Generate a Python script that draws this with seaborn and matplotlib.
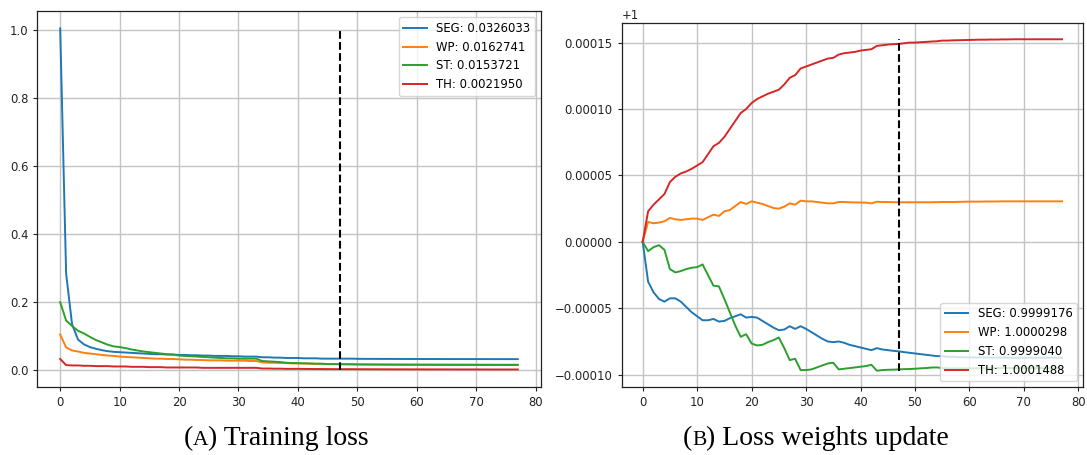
import numpy as np
import pandas as pd
import matplotlib
matplotlib.use("Agg")
import matplotlib.pyplot as plt
import seaborn as sns

# ---------------- data ----------------
epochs = list(range(78))
series_names = ["SEG", "WP", "ST", "TH"]
loss_labels = ["SEG: 0.0326033", "WP: 0.0162741", "ST: 0.0153721", "TH: 0.0021950"]
weight_labels = ["SEG: 0.9999176", "WP: 1.0000298", "ST: 0.9999040", "TH: 1.0001488"]
marker_epoch = 47

seg_loss = [1.005, 0.284, 0.135, 0.090, 0.076, 0.068, 0.063, 0.059, 0.056, 0.054,
            0.053, 0.052, 0.051, 0.050, 0.049, 0.048, 0.047, 0.047, 0.046, 0.046,
            0.045, 0.045, 0.044, 0.044, 0.043, 0.043, 0.042, 0.042, 0.042, 0.041,
            0.041, 0.040, 0.040, 0.040, 0.038, 0.038, 0.037, 0.037, 0.036, 0.036,
            0.036, 0.035, 0.035, 0.035, 0.034, 0.034, 0.034, 0.034, 0.034, 0.034,
            0.0335, 0.0334, 0.0333, 0.0333, 0.0332, 0.0332, 0.0331, 0.0331, 0.0330, 0.0330,
            0.0330, 0.0329, 0.0329, 0.0329, 0.0328, 0.0328, 0.0328, 0.0328, 0.0327, 0.0327,
            0.0327, 0.0327, 0.0327, 0.0326, 0.0326, 0.0326, 0.0326, 0.0326]
wp_loss = [0.105, 0.067, 0.058, 0.055, 0.051, 0.049, 0.047, 0.045, 0.043, 0.042,
           0.040, 0.039, 0.038, 0.037, 0.036, 0.035, 0.034, 0.034, 0.033, 0.033,
           0.032, 0.031, 0.031, 0.030, 0.030, 0.029, 0.029, 0.029, 0.028, 0.028,
           0.028, 0.028, 0.027, 0.027, 0.023, 0.022, 0.022, 0.021, 0.021, 0.020,
           0.020, 0.020, 0.019, 0.019, 0.019, 0.018, 0.018, 0.018, 0.018, 0.018,
           0.0175, 0.0174, 0.0173, 0.0172, 0.0171, 0.0170, 0.0170, 0.0169, 0.0169, 0.0168,
           0.0168, 0.0167, 0.0167, 0.0167, 0.0166, 0.0166, 0.0166, 0.0165, 0.0165, 0.0165,
           0.0164, 0.0164, 0.0164, 0.0164, 0.0163, 0.0163, 0.0163, 0.0163]
st_loss = [0.200, 0.146, 0.130, 0.116, 0.108, 0.098, 0.089, 0.082, 0.075, 0.070,
           0.068, 0.065, 0.061, 0.058, 0.055, 0.053, 0.051, 0.049, 0.047, 0.046,
           0.043, 0.042, 0.041, 0.040, 0.039, 0.038, 0.037, 0.036, 0.035, 0.035,
           0.034, 0.034, 0.034, 0.034, 0.027, 0.026, 0.025, 0.024, 0.022, 0.021,
           0.021, 0.020, 0.020, 0.019, 0.019, 0.018, 0.018, 0.0175, 0.0172, 0.0170,
           0.0168, 0.0166, 0.0165, 0.0164, 0.0163, 0.0162, 0.0161, 0.0160, 0.0160, 0.0159,
           0.0159, 0.0158, 0.0158, 0.0157, 0.0157, 0.0157, 0.0156, 0.0156, 0.0156, 0.0155,
           0.0155, 0.0155, 0.0155, 0.0154, 0.0154, 0.0154, 0.0154, 0.0154]
th_loss = [0.033, 0.015, 0.014, 0.014, 0.013, 0.013, 0.012, 0.012, 0.012, 0.011,
           0.011, 0.011, 0.010, 0.010, 0.010, 0.009, 0.009, 0.009, 0.008, 0.008,
           0.008, 0.008, 0.008, 0.008, 0.007, 0.007, 0.007, 0.007, 0.007, 0.007,
           0.007, 0.007, 0.007, 0.007, 0.005, 0.005, 0.0045, 0.0045, 0.004, 0.004,
           0.004, 0.0038, 0.0036, 0.0035, 0.0034, 0.0033, 0.0032, 0.0031, 0.0030, 0.0030,
           0.0029, 0.0029, 0.0028, 0.0028, 0.0027, 0.0027, 0.0026, 0.0026, 0.0026, 0.0025,
           0.0025, 0.0025, 0.0024, 0.0024, 0.0024, 0.0024, 0.0023, 0.0023, 0.0023, 0.0023,
           0.0023, 0.0022, 0.0022, 0.0022, 0.0022, 0.0022, 0.0022, 0.0022]

# loss-weight deviation from 1, in units of 1e-5
seg_w_e5 = [0.0, -3.0, -3.8, -4.3, -4.5, -4.25, -4.25, -4.5, -4.9, -5.3,
            -5.6, -5.9, -5.9, -5.8, -6.0, -5.95, -5.75, -5.6, -5.45, -5.7,
            -5.65, -5.7, -5.95, -6.2, -6.45, -6.65, -6.6, -6.35, -6.55, -6.35,
            -6.55, -6.8, -7.05, -7.3, -7.5, -7.55, -7.5, -7.6, -7.75, -7.85,
            -7.95, -8.05, -8.15, -8.0, -8.1, -8.15, -8.2, -8.24, -8.3, -8.35,
            -8.4, -8.45, -8.5, -8.55, -8.6, -8.6, -8.65, -8.65, -8.68, -8.68,
            -8.7, -8.7, -8.7, -8.7, -8.71, -8.71, -8.71, -8.72, -8.72, -8.72,
            -8.72, -8.72, -8.72, -8.72, -8.72, -8.72, -8.72, -8.72]
wp_w_e5 = [0.0, 1.5, 1.4, 1.45, 1.55, 1.8, 1.7, 1.65, 1.7, 1.75,
           1.75, 1.65, 1.85, 2.05, 1.95, 2.3, 2.4, 2.7, 3.0, 2.85,
           3.05, 2.95, 2.85, 2.7, 2.55, 2.5, 2.65, 2.9, 2.8, 3.1,
           3.05, 3.05, 3.0, 2.95, 2.9, 2.9, 3.0, 3.0, 2.98, 2.97,
           2.96, 2.95, 2.9, 3.02, 3.0, 3.0, 2.99, 2.98, 2.98, 2.98,
           2.98, 2.98, 2.98, 2.98, 2.99, 3.0, 3.0, 3.0, 3.01, 3.02,
           3.03, 3.03, 3.03, 3.04, 3.04, 3.04, 3.05, 3.05, 3.05, 3.05,
           3.05, 3.05, 3.05, 3.05, 3.05, 3.05, 3.05, 3.05]
st_w_e5 = [0.0, -0.7, -0.4, -0.25, -0.6, -2.05, -2.3, -2.2, -2.05, -1.95,
           -1.9, -1.7, -2.5, -3.3, -3.35, -4.3, -5.3, -6.3, -7.15, -6.95,
           -7.65, -7.8, -7.75, -7.55, -7.4, -7.2, -8.0, -8.9, -8.8, -9.65,
           -9.65, -9.6, -9.45, -9.3, -9.15, -9.1, -9.6, -9.55, -9.5, -9.45,
           -9.4, -9.35, -9.25, -9.7, -9.65, -9.63, -9.62, -9.6, -9.58, -9.57,
           -9.55, -9.52, -9.5, -9.46, -9.45, -9.5, -9.52, -9.53, -9.53, -9.52,
           -9.52, -9.52, -9.51, -9.51, -9.51, -9.5, -9.5, -9.5, -9.5, -9.5,
           -9.5, -9.5, -9.5, -9.5, -9.5, -9.5, -9.5, -9.5]
th_w_e5 = [0.0, 2.3, 2.8, 3.2, 3.6, 4.5, 4.9, 5.15, 5.3, 5.5,
           5.75, 6.0, 6.6, 7.2, 7.45, 7.9, 8.5, 9.1, 9.7, 10.0,
           10.45, 10.75, 10.95, 11.15, 11.3, 11.45, 11.85, 12.35, 12.55, 13.05,
           13.2, 13.35, 13.5, 13.65, 13.8, 13.85, 14.1, 14.2, 14.25, 14.3,
           14.4, 14.45, 14.5, 14.75, 14.8, 14.85, 14.88, 14.9, 14.95, 15.0,
           15.0, 15.03, 15.05, 15.08, 15.1, 15.15, 15.15, 15.17, 15.18, 15.19,
           15.2, 15.21, 15.22, 15.22, 15.23, 15.23, 15.24, 15.24, 15.25, 15.25,
           15.25, 15.25, 15.25, 15.25, 15.25, 15.25, 15.25, 15.25]

caption_a = ["(", "A", ") Training loss"]
caption_b = ["(", "B", ") Loss weights update"]

# ---------------- figure ----------------
colors = sns.color_palette("tab10")[:4]
W, H = 1087, 455
fig = plt.figure(figsize=(W / 100, H / 100), dpi=100)
ax1 = fig.add_axes([37.3 / W, 1 - 387.3 / H, 503.4 / W, 376.0 / H])
ax2 = fig.add_axes([621.7 / W, 1 - 387.3 / H, 461.3 / W, 364.6 / H])

loss_df = pd.DataFrame({"epoch": epochs, "SEG": seg_loss, "WP": wp_loss,
                        "ST": st_loss, "TH": th_loss})
w_df = pd.DataFrame({"epoch": epochs,
                     "SEG": 1 + np.array(seg_w_e5) * 1e-5,
                     "WP": 1 + np.array(wp_w_e5) * 1e-5,
                     "ST": 1 + np.array(st_w_e5) * 1e-5,
                     "TH": 1 + np.array(th_w_e5) * 1e-5})

LW = 1.4
for name, lab, c in zip(series_names, loss_labels, colors):
    sns.lineplot(data=loss_df, x="epoch", y=name, ax=ax1, color=c, label=lab, lw=LW)
for name, lab, c in zip(series_names, weight_labels, colors):
    sns.lineplot(data=w_df, x="epoch", y=name, ax=ax2, color=c, label=lab, lw=LW)

ax1.vlines(marker_epoch, 0.0, 1.0, colors="k", linestyles="--", lw=1.5)
wvals = w_df[series_names].values
ax2.vlines(marker_epoch, wvals.min(), wvals.max(), colors="k", linestyles="--", lw=1.5)

for ax in (ax1, ax2):
    ax.set_xlabel("")
    ax.set_ylabel("")
    ax.grid(True, color="#c4c4c4", lw=1.0)
    ax.set_xticks([0, 10, 20, 30, 40, 50, 60, 70, 80])
    ax.tick_params(labelsize=8.4, length=3, width=0.8, color="#222222", labelcolor="#222222")
    for s in ax.spines.values():
        s.set_linewidth(0.9)
        s.set_color("#222222")
ax2.yaxis.get_offset_text().set_fontsize(8.4)

ax1.legend(loc="upper right", fontsize=8.4)
ax2.legend(loc="lower right", fontsize=8.4)

# ---------------- captions (small caps imitation) ----------------
serif = ["Liberation Serif", "DejaVu Serif"]
fig.canvas.draw()
renderer = fig.canvas.get_renderer()


def caption(xc, y, parts, big=20, small=15.5):
    texts = []
    for i, p in enumerate(parts):
        size = small if i == 1 else big
        t = fig.text(0, y, p, fontsize=size, family=serif, va="baseline", ha="left")
        texts.append(t)
    widths = [t.get_window_extent(renderer).width for t in texts]
    total = sum(widths)
    x = xc - total / 2
    for t, w in zip(texts, widths):
        t.set_x(x / W)
        x += w


caption(276, 1 - 445 / H, caption_a)
caption(816, 1 - 445 / H, caption_b)

fig.savefig("out.png", dpi=100)
